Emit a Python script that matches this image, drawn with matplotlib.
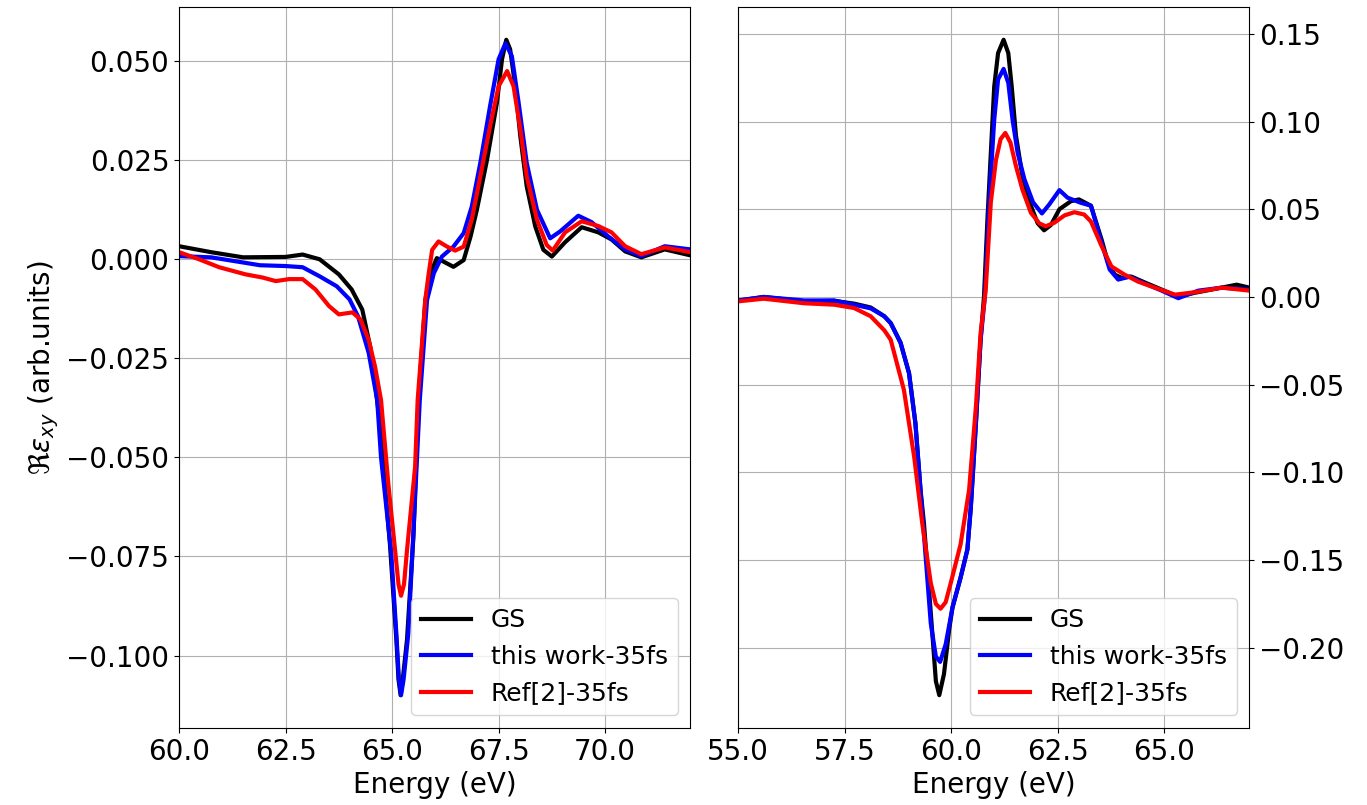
import matplotlib
matplotlib.use("Agg")
import matplotlib.pyplot as plt
from matplotlib.ticker import MultipleLocator

# ---------------- left panel (60-72 eV) ----------------
E_gs_L = [60.0, 60.75, 61.5, 62.5, 62.9, 63.3, 63.75, 64.05, 64.3, 64.5,
          64.7, 64.95, 65.1, 65.15, 65.2, 65.25, 65.35, 65.5, 65.62, 65.78,
          65.9, 66.05, 66.21, 66.44, 66.68, 66.84, 66.99, 67.23, 67.46, 67.58,
          67.68, 67.77, 67.89, 68.01, 68.16, 68.36, 68.55, 68.75, 69.06, 69.45,
          69.84, 70.15, 70.47, 70.85, 71.4, 72.0]
gs_L = [0.0033, 0.0018, 0.0005, 0.0006, 0.0012, 0.0, -0.0038, -0.0076, -0.0127, -0.0228,
        -0.040, -0.072, -0.096, -0.106, -0.110, -0.106, -0.096, -0.070, -0.0355, -0.0103,
        -0.0035, 0.0003, -0.0006, -0.0019, -0.0002, 0.0057, 0.0125, 0.0252, 0.0395, 0.0505,
        0.0554, 0.053, 0.0437, 0.031, 0.0184, 0.0083, 0.0024, 0.0007, 0.0043, 0.0081,
        0.0068, 0.005, 0.002, 0.0005, 0.0025, 0.001]

E_tw_L = [60.0, 60.75, 61.5, 61.9, 62.5, 62.9, 63.3, 63.7, 64.0, 64.2,
          64.45, 64.65, 64.74, 64.98, 65.1, 65.16, 65.21, 65.27, 65.38, 65.5,
          65.65, 65.82, 65.98, 66.17, 66.44, 66.68, 66.87, 67.07, 67.3, 67.5,
          67.66, 67.81, 67.97, 68.16, 68.4, 68.71, 68.94, 69.37, 69.68, 70.07,
          70.47, 70.85, 71.4, 72.0]
tw_L = [0.0008, 0.0005, -0.0008, -0.0015, -0.0017, -0.002, -0.0043, -0.0068, -0.0101, -0.0144,
        -0.0236, -0.0355, -0.050, -0.0742, -0.0945, -0.106, -0.110, -0.106, -0.0945, -0.069,
        -0.0355, -0.0103, -0.0035, 0.0007, 0.0032, 0.0066, 0.0133, 0.0243, 0.0387, 0.0505,
        0.0545, 0.0513, 0.0395, 0.0243, 0.0125, 0.0053, 0.007, 0.011, 0.0094, 0.0058,
        0.0025, 0.0008, 0.0033, 0.0025]

E_ref_L = [60.0, 60.47, 60.94, 61.56, 61.96, 62.27, 62.58, 62.9, 63.2, 63.52,
           63.75, 64.07, 64.26, 64.45, 64.6, 64.74, 64.91, 65.07, 65.15, 65.21,
           65.28, 65.35, 65.54, 65.6, 65.78, 65.86, 65.94, 66.09, 66.29, 66.48,
           66.68, 66.87, 67.07, 67.3, 67.5, 67.7, 67.85, 68.01, 68.16, 68.4,
           68.63, 68.77, 69.06, 69.45, 69.84, 70.15, 70.47, 70.85, 71.4, 72.0]
ref_L = [0.0018, 0.0, -0.002, -0.0038, -0.0046, -0.0055, -0.005, -0.005, -0.0076, -0.0118,
         -0.0139, -0.0134, -0.0152, -0.0203, -0.0271, -0.0355, -0.0565, -0.0734, -0.082, -0.0849,
         -0.082, -0.0734, -0.0524, -0.0355, -0.0101, -0.0035, 0.0024, 0.0045, 0.0032, 0.0022,
         0.0032, 0.010, 0.0209, 0.0336, 0.0437, 0.0475, 0.0437, 0.0328, 0.0209, 0.010,
         0.0036, 0.0022, 0.0068, 0.0096, 0.0084, 0.0068, 0.0033, 0.0013, 0.003, 0.0018]

# ---------------- right panel (55-67 eV) ----------------
E_gs_R = [55.0, 55.6, 56.55, 57.25, 57.72, 58.11, 58.43, 58.58, 58.81, 59.01,
          59.16, 59.28, 59.36, 59.48, 59.57, 59.64, 59.72, 59.83, 59.95, 60.03,
          60.22, 60.38, 60.46, 60.58, 60.69, 60.77, 60.85, 60.93, 61.01, 61.1,
          61.23, 61.34, 61.42, 61.52, 61.67, 61.87, 62.03, 62.18, 62.34, 62.54,
          62.81, 63.0, 63.28, 63.53, 63.68, 63.84, 63.99, 64.23, 64.55, 64.94,
          65.33, 65.72, 66.11, 66.7, 67.0]
gs_R = [-0.0021, 0.0, -0.0025, -0.0022, -0.0038, -0.006, -0.011, -0.0149, -0.026, -0.0434,
        -0.072, -0.110, -0.129, -0.167, -0.196, -0.219, -0.227, -0.215, -0.190, -0.177,
        -0.160, -0.144, -0.120, -0.072, -0.0244, 0.0003, 0.044, 0.082, 0.120, 0.139,
        0.1466, 0.139, 0.120, 0.092, 0.069, 0.052, 0.042, 0.038, 0.041, 0.050,
        0.0546, 0.0556, 0.052, 0.0327, 0.0196, 0.0127, 0.011, 0.0116, 0.0082, 0.0042,
        0.0002, 0.0024, 0.0042, 0.007, 0.0053]

E_tw_R = [55.0, 55.6, 56.55, 57.25, 57.72, 58.11, 58.43, 58.58, 58.81, 59.01,
          59.16, 59.28, 59.4, 59.52, 59.64, 59.74, 59.87, 60.03, 60.22, 60.38,
          60.46, 60.58, 60.69, 60.79, 60.89, 61.01, 61.1, 61.23, 61.34, 61.44,
          61.56, 61.72, 61.92, 62.13, 62.3, 62.54, 62.73, 63.04, 63.28, 63.53,
          63.72, 63.92, 64.19, 64.55, 64.94, 65.33, 65.8, 66.35, 67.0]
tw_R = [-0.002, 0.0, -0.002, -0.002, -0.0044, -0.0065, -0.011, -0.0149, -0.026, -0.0434,
        -0.072, -0.110, -0.148, -0.186, -0.205, -0.208, -0.198, -0.177, -0.160, -0.144,
        -0.120, -0.072, -0.0244, 0.0, 0.054, 0.101, 0.124, 0.130, 0.122, 0.101,
        0.082, 0.067, 0.054, 0.0476, 0.0527, 0.0609, 0.0566, 0.0537, 0.052, 0.0309,
        0.0156, 0.0099, 0.0116, 0.0076, 0.0036, -0.0007, 0.0036, 0.0053, 0.0042]

E_ref_R = [55.0, 55.6, 56.55, 57.25, 57.72, 58.11, 58.43, 58.58, 58.89, 59.13,
           59.32, 59.52, 59.64, 59.75, 59.87, 59.99, 60.22, 60.42, 60.58, 60.69,
           60.81, 60.93, 61.05, 61.16, 61.27, 61.39, 61.52, 61.67, 61.87, 62.07,
           62.22, 62.42, 62.66, 62.89, 63.12, 63.28, 63.53, 63.76, 64.07, 64.39,
           64.78, 65.25, 65.72, 66.35, 67.0]
ref_R = [-0.0025, -0.001, -0.0036, -0.0044, -0.0063, -0.011, -0.019, -0.0244, -0.053, -0.091,
         -0.129, -0.163, -0.175, -0.1777, -0.174, -0.163, -0.141, -0.110, -0.0625, -0.0206,
         0.004, 0.054, 0.078, 0.090, 0.0935, 0.088, 0.0746, 0.0613, 0.048, 0.0419,
         0.0403, 0.0423, 0.0465, 0.0483, 0.047, 0.043, 0.029, 0.0174, 0.0127, 0.0087,
         0.0053, 0.0013, 0.0027, 0.0053, 0.0036]

labels = ["GS", "this work-35fs", "Ref[2]-35fs"]
colors = ["k", "b", "r"]

fig = plt.figure(figsize=(13.67, 8.05), dpi=100)
ax1 = fig.add_axes([0.131, 0.0957, 0.374, 0.8956])
ax2 = fig.add_axes([0.540, 0.0957, 0.374, 0.8956])

# left: 60-72 eV window
ax1.plot(E_gs_L, gs_L, c=colors[0], lw=3, label=labels[0])
ax1.plot(E_tw_L, tw_L, c=colors[1], lw=3, label=labels[1])
ax1.plot(E_ref_L, ref_L, c=colors[2], lw=3, label=labels[2])
ax1.set_xlim(60, 72)
ax1.xaxis.set_major_locator(MultipleLocator(2.5))
ax1.set_xlabel("Energy (eV)", fontsize=20)
ax1.set_ylabel(r"$\Re\varepsilon_{xy}$ (arb.units)", fontsize=20)
ax1.tick_params(labelsize=20)
ax1.grid()
ax1.legend(loc="lower right", fontsize=18)

# right: 55-67 eV window, y ticks on the right
ax2.plot(E_gs_R, gs_R, c=colors[0], lw=3, label=labels[0])
ax2.plot(E_tw_R, tw_R, c=colors[1], lw=3, label=labels[1])
ax2.plot(E_ref_R, ref_R, c=colors[2], lw=3, label=labels[2])
ax2.set_xlim(55, 67)
ax2.xaxis.set_major_locator(MultipleLocator(2.5))
ax2.yaxis.tick_right()
ax2.set_xlabel("Energy (eV)", fontsize=20)
ax2.tick_params(labelsize=20)
ax2.grid()
ax2.legend(loc="lower right", fontsize=18)

fig.savefig("out.png", dpi=100)
